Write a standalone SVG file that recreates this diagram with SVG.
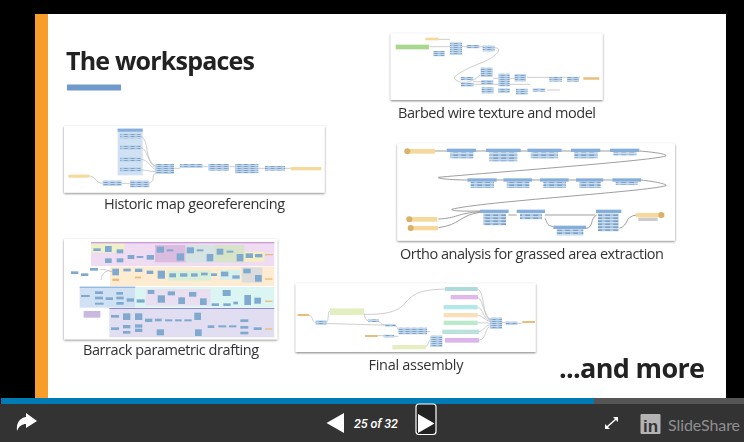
<svg xmlns="http://www.w3.org/2000/svg" width="744" height="442" viewBox="0 0 744 442">
<style>
.lab{font-family:"Open Sans","Liberation Sans",sans-serif;font-size:14.5px;fill:#333}
.big{font-family:"Open Sans","Liberation Sans",sans-serif;font-weight:700;font-size:25px;fill:#222}
.card{fill:#fff;filter:url(#sh)}
.b{fill:url(#rows)}.bs{fill:url(#rowsS)}.bh{fill:#86aedb}.y{fill:#f6d99a}.yd{fill:#d8b26a}
.w{fill:none;stroke:#b5b5b5;stroke-width:2}
.wd{fill:none;stroke:#8a8a8a;stroke-width:2.500}
.th{filter:url(#bl)}
</style>
<defs>
<filter id="bl" x="-5%" y="-5%" width="110%" height="110%"><feGaussianBlur stdDeviation="1.3"/></filter>
<filter id="soft" x="0" y="0" width="100%" height="100%"><feGaussianBlur stdDeviation="0.35"/></filter>
<filter id="sh" x="-5%" y="-8%" width="110%" height="120%"><feDropShadow dx="0" dy="3" stdDeviation="3" flood-color="#000" flood-opacity=".5"/></filter>
<filter id="bl2" x="-5%" y="-5%" width="110%" height="110%"><feGaussianBlur stdDeviation="0.9"/></filter>
<pattern id="rows" width="24" height="9" patternUnits="userSpaceOnUse"><rect width="24" height="9" fill="#a9c8e8"/><rect y="7" width="24" height="2" fill="#dce9f5"/><rect x="4" y="2" width="14" height="3" fill="#6d8cad"/></pattern>
<pattern id="rowsS" width="20" height="6" patternUnits="userSpaceOnUse"><rect width="20" height="6" fill="#a9c8e8"/><rect y="4.500" width="20" height="1.500" fill="#dce9f5"/><rect x="2" y="1" width="11" height="2" fill="#6d8cad"/></pattern>
</defs>
<rect width="744" height="442" fill="#000"/>
<g filter="url(#soft)">
<rect x="35" y="14" width="691" height="385" fill="#fff"/>
<rect x="35" y="14" width="13" height="385" fill="#f99d2c"/>
<text class="big" x="66" y="70" textLength="189">The workspaces</text>
<rect x="67" y="84.500" width="54" height="6" fill="#7099cc"/>

<g id="barbed" transform="translate(380,25) scale(.33333)">
<rect class="card" x="32" y="25" width="636" height="200"/>
<g class="th">
<path class="w" d="M148 65H210M175 43H210M245 65H310M345 68C375 72 340 100 300 115C260 130 225 150 222 160C235 175 270 180 300 150M280 178H450M440 157H600M280 170H305M340 160H410M500 195H540"/>
<rect x="47" y="59" width="100" height="14" fill="#a8d88e"/><rect x="136" y="38" width="40" height="8" class="y"/>
<g class="bs"><rect x="160" y="78" width="34" height="16"/><rect x="210" y="52" width="36" height="38"/>
<rect x="260" y="60" width="38" height="10"/><rect x="308" y="62" width="36" height="17"/>
<rect x="242" y="156" width="38" height="10"/><rect x="243" y="173" width="38" height="12"/>
<rect x="302" y="128" width="36" height="28"/><rect x="304" y="165" width="36" height="15"/><rect x="305" y="187" width="36" height="18"/>
<rect x="355" y="146" width="34" height="38"/><rect x="404" y="147" width="34" height="22"/>
<rect x="354" y="190" width="35" height="14"/><rect x="408" y="191" width="35" height="18"/><rect x="458" y="190" width="38" height="10"/>
<rect x="508" y="156" width="38" height="14"/><rect x="561" y="156" width="36" height="14"/></g>
<rect x="610" y="157" width="48" height="7" fill="#e8bd78"/>
</g></g>
<text id="lbl-barbed" class="lab" x="398" y="118" textLength="198">Barbed wire texture and model</text>

<g id="ortho" transform="translate(380,25) scale(.33333)">
<rect class="card" x="52" y="355" width="833" height="292"/>
<g style="filter:url(#bl2)">
<path class="wd" d="M160 378H200M285 378H318M420 378H442M545 378H573M660 378H690M778 378C830 382 860 388 858 392C850 405 300 445 175 457C170 462 230 465 262 465M345 465H370M455 465H480M565 465H588M670 465H697M782 465C830 470 862 478 858 482C800 500 300 530 215 553C215 560 270 558 300 558M175 582C230 580 230 565 300 560M175 608C240 600 240 570 300 562M385 570H410M495 580C505 600 500 600 520 605M618 610C640 610 630 580 650 570M495 570H645M718 610C750 600 730 575 770 570"/>
<g class="bh"><rect x="200" y="371" width="88" height="10"/><rect x="318" y="371" width="104" height="10"/><rect x="442" y="371" width="103" height="10"/><rect x="573" y="371" width="88" height="10"/><rect x="690" y="371" width="88" height="10"/>
<rect x="262" y="460" width="88" height="10"/><rect x="370" y="460" width="86" height="10"/><rect x="480" y="460" width="86" height="10"/><rect x="588" y="460" width="82" height="10"/><rect x="697" y="460" width="86" height="10"/>
<rect x="300" y="554" width="86" height="10"/><rect x="410" y="554" width="85" height="10"/><rect x="520" y="602" width="98" height="10"/><rect x="648" y="554" width="76" height="10"/></g>
<g class="b"><rect x="210" y="382" width="70" height="18"/><rect x="328" y="382" width="84" height="27"/><rect x="452" y="382" width="82" height="18"/><rect x="583" y="382" width="70" height="18"/><rect x="700" y="382" width="70" height="9"/>
<rect x="272" y="471" width="70" height="18"/><rect x="380" y="471" width="68" height="18"/><rect x="490" y="471" width="68" height="18"/><rect x="598" y="471" width="64" height="18"/><rect x="707" y="471" width="66" height="9"/>
<rect x="310" y="565" width="68" height="36"/><rect x="420" y="565" width="66" height="18"/><rect x="530" y="613" width="80" height="18"/><rect x="654" y="565" width="62" height="54"/></g>
<g class="y"><rect x="75" y="372" width="90" height="14"/><rect x="80" y="576" width="92" height="14"/><rect x="84" y="603" width="90" height="13"/><rect x="768" y="564" width="85" height="13"/></g>
<rect x="775" y="578" width="58" height="10" fill="#ccc"/>
<g class="yd"><circle cx="82" cy="379" r="9"/><circle cx="88" cy="583" r="9"/><circle cx="92" cy="609" r="9"/><circle cx="844" cy="570" r="9"/></g>
</g></g>
<text id="lbl-ortho" class="lab" x="400" y="259" textLength="264">Ortho analysis for grassed area extraction</text>

<g id="historic" transform="translate(50,30) scale(.33333)">
<rect class="card" x="42" y="288" width="782" height="200"/>
<g class="th">
<rect x="203" y="296" width="75" height="140" fill="#cfe1f3"/><rect x="203" y="296" width="75" height="9" class="bh"/>
<path class="w" d="M272 318C300 330 280 390 318 410M272 352C295 360 290 395 318 415M272 388C295 390 300 410 318 420M272 420C290 420 300 425 318 425M118 438C140 440 135 460 158 460M215 460H240M298 460C320 450 300 435 318 430M372 415H390M458 410H475M538 410H555M625 415H645M705 415H722"/>
<g class="bs"><rect x="210" y="311" width="62" height="14"/><rect x="210" y="345" width="62" height="14"/><rect x="210" y="381" width="62" height="14"/><rect x="210" y="411" width="62" height="14"/>
<rect x="158" y="452" width="57" height="16"/><rect x="240" y="452" width="58" height="20"/><rect x="316" y="402" width="56" height="30"/><rect x="390" y="402" width="68" height="12"/><rect x="475" y="402" width="62" height="20"/><rect x="555" y="402" width="70" height="28"/><rect x="645" y="408" width="60" height="14"/></g>
<rect x="55" y="434" width="63" height="9" class="y"/><rect x="722" y="411" width="92" height="10" class="y"/>
</g></g>
<text id="lbl-historic" class="lab" x="104" y="209" textLength="181">Historic map georeferencing</text>

<g id="barrack" transform="translate(55,230) scale(.33333)">
<rect class="card" x="27" y="27" width="640" height="301"/>
<g class="th">
<rect x="108" y="38" width="550" height="70" fill="#efdcf3"/><rect x="108" y="38" width="100" height="30" fill="#eef0c8"/><rect x="108" y="36" width="550" height="4" fill="#cf9bd8"/>
<rect x="300" y="45" width="92" height="52" fill="#d9bce0"/><rect x="392" y="45" width="88" height="52" fill="#d5e3e3"/><rect x="480" y="45" width="88" height="52" fill="#d6e3c8"/><rect x="568" y="65" width="60" height="30" fill="#f6eec0"/>
<rect x="165" y="110" width="493" height="58" fill="#fdebd2"/><rect x="338" y="122" width="130" height="30" fill="#d8efd8"/><rect x="560" y="112" width="62" height="46" fill="#dcdcdc"/><rect x="495" y="120" width="60" height="30" fill="#d8f0ec"/>
<rect x="74" y="171" width="167" height="62" fill="#cfe1f3"/><rect x="241" y="171" width="417" height="62" fill="#dbf5f3"/><rect x="272" y="177" width="195" height="50" fill="#eadff0"/>
<rect x="163" y="236" width="495" height="86" fill="#e2def2"/><rect x="163" y="234" width="495" height="3" fill="#8f8ad0"/><rect x="74" y="170" width="167" height="3" fill="#79a7d8"/>
<rect x="86" y="243" width="50" height="20" fill="#c9b8e0"/>
<g fill="#7fa9cf">
<rect x="48" y="124" width="22" height="8"/><rect x="78" y="130" width="22" height="8"/><rect x="105" y="114" width="24" height="8"/>
<rect x="115" y="55" width="22" height="8"/><rect x="150" y="48" width="20" height="18"/><rect x="150" y="85" width="20" height="14"/><rect x="185" y="58" width="20" height="12"/><rect x="185" y="85" width="20" height="12"/><rect x="218" y="75" width="20" height="12"/><rect x="245" y="78" width="20" height="6"/><rect x="275" y="75" width="22" height="14"/><rect x="305" y="50" width="22" height="18"/><rect x="335" y="58" width="20" height="6"/><rect x="365" y="70" width="22" height="22"/><rect x="395" y="52" width="22" height="18"/><rect x="425" y="58" width="20" height="6"/><rect x="455" y="72" width="20" height="22"/><rect x="485" y="56" width="20" height="18"/><rect x="515" y="62" width="20" height="6"/><rect x="545" y="72" width="20" height="22"/><rect x="572" y="70" width="22" height="14"/><rect x="600" y="72" width="22" height="10"/>
<rect x="172" y="116" width="20" height="20"/><rect x="205" y="116" width="22" height="8"/><rect x="240" y="116" width="22" height="10"/><rect x="275" y="122" width="20" height="10"/><rect x="308" y="122" width="22" height="24"/><rect x="343" y="130" width="20" height="12"/><rect x="375" y="130" width="22" height="10"/><rect x="408" y="130" width="20" height="10"/><rect x="438" y="128" width="20" height="8"/><rect x="468" y="130" width="18" height="8"/><rect x="498" y="125" width="22" height="14"/><rect x="532" y="136" width="22" height="10"/><rect x="565" y="116" width="22" height="14"/><rect x="600" y="135" width="20" height="20"/>
<rect x="78" y="195" width="26" height="6"/><rect x="120" y="184" width="24" height="8"/><rect x="120" y="200" width="24" height="8"/><rect x="120" y="218" width="26" height="6"/><rect x="152" y="202" width="22" height="8"/><rect x="184" y="186" width="20" height="8"/><rect x="184" y="200" width="22" height="8"/><rect x="184" y="216" width="22" height="8"/><rect x="215" y="205" width="22" height="10"/><rect x="245" y="208" width="24" height="10"/><rect x="278" y="180" width="20" height="12"/><rect x="308" y="196" width="22" height="22"/><rect x="338" y="184" width="22" height="12"/><rect x="370" y="202" width="20" height="20"/><rect x="402" y="186" width="22" height="14"/><rect x="435" y="205" width="20" height="20"/><rect x="470" y="220" width="22" height="8"/><rect x="503" y="180" width="24" height="18"/><rect x="505" y="220" width="22" height="8"/><rect x="535" y="215" width="14" height="8"/><rect x="568" y="195" width="20" height="30"/><rect x="598" y="203" width="20" height="18"/>
<rect x="168" y="255" width="24" height="8"/><rect x="168" y="292" width="24" height="8"/><rect x="204" y="250" width="22" height="20"/><rect x="204" y="285" width="22" height="10"/><rect x="204" y="303" width="22" height="8"/><rect x="240" y="250" width="22" height="20"/><rect x="240" y="283" width="22" height="10"/><rect x="240" y="296" width="22" height="10"/><rect x="270" y="266" width="22" height="10"/><rect x="300" y="266" width="20" height="8"/><rect x="330" y="268" width="22" height="6"/><rect x="360" y="268" width="20" height="6"/><rect x="388" y="268" width="22" height="6"/><rect x="418" y="248" width="20" height="22"/><rect x="305" y="298" width="22" height="18"/><rect x="420" y="298" width="20" height="20"/><rect x="458" y="286" width="20" height="8"/><rect x="490" y="286" width="24" height="6"/><rect x="522" y="286" width="22" height="6"/><rect x="556" y="268" width="24" height="8"/><rect x="556" y="288" width="24" height="8"/><rect x="556" y="305" width="24" height="8"/><rect x="596" y="292" width="24" height="8"/></g>
<g fill="#e8bd78"><rect x="630" y="72" width="24" height="4"/><rect x="630" y="145" width="22" height="4"/><rect x="630" y="212" width="22" height="4"/><rect x="630" y="295" width="22" height="4"/><rect x="172" y="146" width="20" height="7"/><rect x="240" y="140" width="18" height="5"/></g>
<path class="w" d="M135 118C160 118 160 125 172 125M138 150C140 130 150 125 165 120"/>
</g></g>
<text id="lbl-barrack" class="lab" x="83" y="355" textLength="176">Barrack parametric drafting</text>

<g id="final" transform="translate(285,275) scale(.33333)">
<rect class="card" x="32" y="25" width="720" height="206"/>
<g class="th">
<path class="w" d="M72 120C85 125 80 140 92 143M122 143C135 140 125 110 135 108M122 146C180 146 250 150 300 150M235 118C300 120 340 110 360 85C390 45 430 45 480 42M235 112C240 125 240 135 250 138M280 138C290 145 290 150 300 150M330 152C340 155 335 160 340 165M278 182H295M327 184H340M425 170H436M420 216C430 215 428 200 436 195M578 42C600 50 590 120 615 132M578 67C595 75 595 120 615 135M578 97C595 100 590 125 615 137M578 120C595 125 600 135 615 140M578 143C595 145 600 142 615 145M582 170C600 165 600 150 615 150M582 195C605 195 600 155 615 155M650 142H662M698 145H712"/>
<rect x="135" y="100" width="102" height="20" fill="#e3efc0"/><rect x="322" y="210" width="100" height="13" fill="#e3efc0"/>
<rect x="480" y="36" width="98" height="12" fill="#aedadc"/><rect x="497" y="60" width="82" height="13" fill="#e0b8ea"/><rect x="476" y="90" width="102" height="13" fill="#b4e7ea"/><rect x="476" y="114" width="102" height="13" fill="#fadfb8"/><rect x="476" y="137" width="102" height="13" fill="#baeacb"/><rect x="472" y="164" width="110" height="13" fill="#b8e2da"/><rect x="480" y="189" width="102" height="14" fill="#dcb6ea"/>
<g class="bs"><rect x="92" y="136" width="32" height="14"/><rect x="250" y="133" width="32" height="8"/><rect x="300" y="147" width="32" height="8"/><rect x="295" y="179" width="32" height="8"/><rect x="340" y="158" width="86" height="20"/><rect x="436" y="182" width="36" height="34"/><rect x="615" y="128" width="36" height="34"/><rect x="662" y="140" width="36" height="10"/></g>
<g fill="#e8bd78"><rect x="38" y="117" width="34" height="6"/><rect x="240" y="180" width="38" height="6"/><rect x="712" y="138" width="38" height="6"/></g>
</g></g>
<text id="lbl-final" class="lab" x="368.500" y="370" textLength="95">Final assembly</text>

<text class="big" x="559" y="378" style="font-size:27px" textLength="146">...and more</text>
</g>

<g id="toolbar">
<rect x="0" y="404" width="744" height="38" fill="#333"/>
<rect x="594" y="398" width="150" height="6" fill="#555"/>
<rect x="1" y="398" width="593" height="6" fill="#007bb6"/>
<path d="M17 431C16 424 19 418 26 417V413L37 421L26 428V424C22 424 19 426 17 431Z" fill="#fff"/>
<path d="M344 413V433L326.500 423Z" fill="#fff"/>
<text x="376" y="428" text-anchor="middle" font-family="Roboto,Liberation Sans,sans-serif" font-style="italic" font-weight="500" font-size="12.500" fill="#fff" textLength="44">25 of 32</text>
<rect x="416" y="404" width="20" height="30.500" rx="3" fill="#222" stroke="#fff" stroke-width="1.200"/>
<path d="M418 414V433L434.500 423.500Z" fill="#fff"/>
<path d="M607 427L616 419" stroke="#fff" stroke-width="1.500"/>
<path d="M613 417H618V422ZM605 424V429H610Z" fill="#fff"/>
<rect x="640.500" y="414" width="20" height="20" rx="1" fill="#b3b3b3"/>
<text x="643" y="431.500" font-family="Liberation Sans,sans-serif" font-weight="700" font-size="17" fill="#333">in</text>
<text x="668" y="431" font-family="Lato,Open Sans,Liberation Sans,sans-serif" font-size="16" fill="#8f8f8f" textLength="72">SlideShare</text>
</g>
</svg>
